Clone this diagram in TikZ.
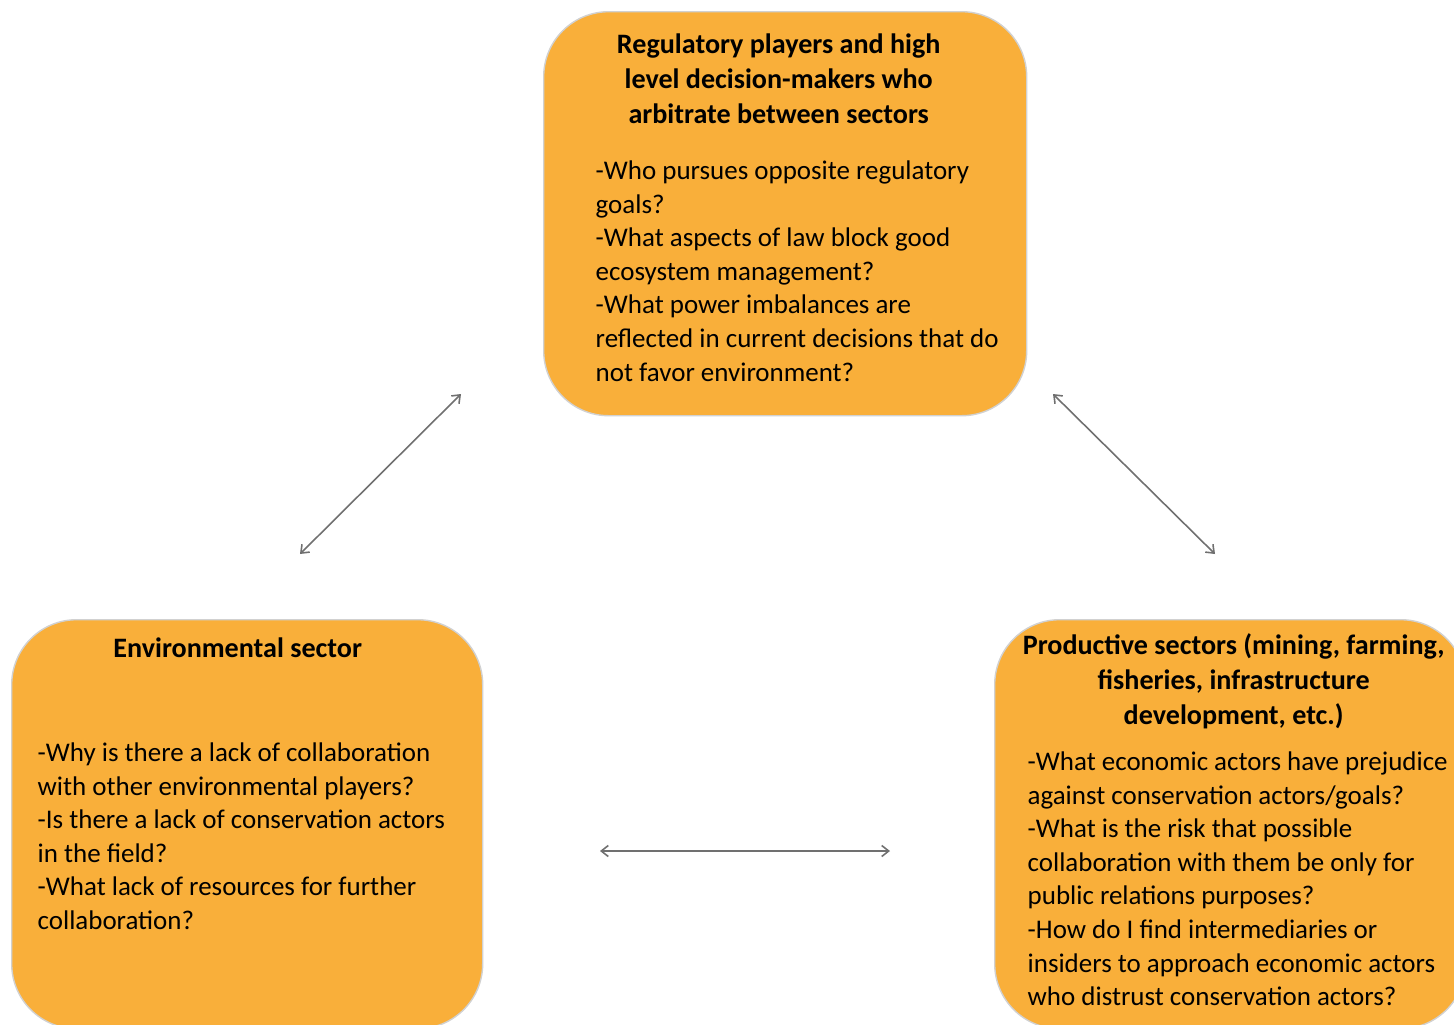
\documentclass[tikz,border=0pt]{standalone}
\usepackage{fontspec}
\setmainfont{Carlito}
\usetikzlibrary{backgrounds,positioning,arrows.meta}
\definecolor{boxorange}{RGB}{249,175,58}
\definecolor{arrowgray}{RGB}{112,112,112}

\begin{document}
\begin{tikzpicture}[background rectangle/.style={fill=white},show background rectangle,
    sectorbox/.style={rectangle,rounded corners=0.65cm,fill=boxorange,draw=black!18,line width=0.4pt,anchor=north west,inner sep=0},
    headtext/.style={font=\fontsize{8.0}{9.96}\selectfont\bfseries,align=center,inner sep=0},
    bodytext/.style={font=\fontsize{7.67}{9.56}\selectfont,align=left,inner sep=0},
    link/.style={line width=0.45pt,arrowgray,<->},
    >={Straight Barb[length=0.7mm,width=1.1mm]}]
        \useasboundingbox (0,0) rectangle (14.54,-10.24);

        \node[sectorbox,minimum width=4.83cm,minimum height=4.04cm] (reg) at (5.43,-0.11) {};
        \node[sectorbox,minimum width=4.71cm,minimum height=4.09cm] (env) at (0.11,-6.19) {};
        \node[sectorbox,minimum width=4.71cm,minimum height=4.09cm] (prod) at (9.94,-6.19) {};

        \node[headtext,below=0.22 of reg.north,xshift=-0.065cm] (regHead) {Regulatory players and high\\level decision-makers who\\arbitrate between sectors};
        \node[bodytext,below right=1.49 and 0.52 of reg.north west] (regBody) {-Who pursues opposite regulatory\\goals?\\-What aspects of law block good\\ecosystem management?\\-What power imbalances are\\reflected in current decisions that do\\not favor environment?};

        \node[headtext,below=0.18 of env.north,xshift=-0.095cm] (envHead) {Environmental sector};
        \node[bodytext,below right=1.23 and 0.26 of env.north west] (envBody) {-Why is there a lack of collaboration\\with other environmental players?\\-Is there a lack of conservation actors\\in the field?\\-What lack of resources for further\\collaboration?};

        \node[headtext,below=0.14 of prod.north,xshift=0.035cm] (prodHead) {Productive sectors (mining, farming,\\fisheries, infrastructure\\development, etc.)};
        \node[bodytext,below right=1.32 and 0.33 of prod.north west] (prodBody) {-What economic actors have prejudice\\against conservation actors/goals?\\-What is the risk that possible\\collaboration with them be only for\\public relations purposes?\\-How do I find intermediaries or\\insiders to approach economic actors\\who distrust conservation actors?};

        % free ends of the links
        \coordinate (envTop) at (3.00,-5.54);
        \coordinate (regLeft) at (4.61,-3.94);
        \coordinate (regRight) at (10.53,-3.94);
        \coordinate (prodTop) at (12.15,-5.54);
        \coordinate (envSide) at (6.00,-8.51);
        \coordinate (prodSide) at (8.90,-8.51);

        \draw[link] (envTop) -- (regLeft);
        \draw[link] (regRight) -- (prodTop);
        \draw[link] (envSide) -- (prodSide);

    \end{tikzpicture}
\end{document}
